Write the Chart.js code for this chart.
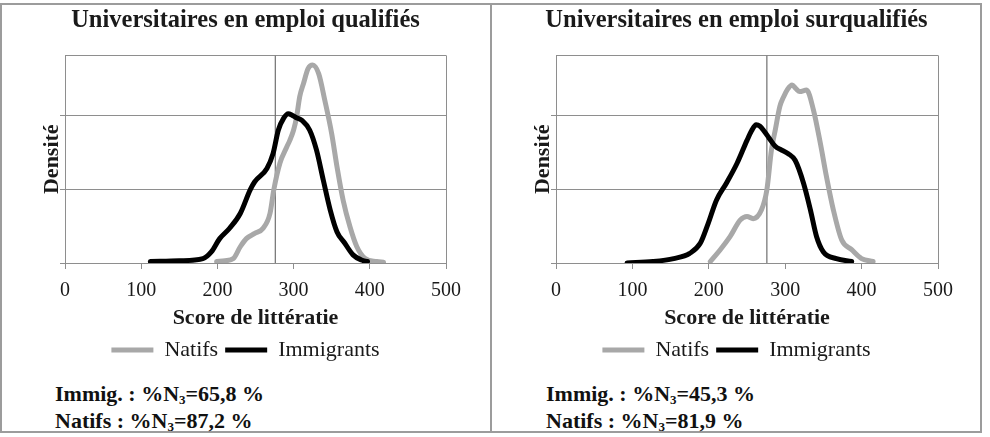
<!DOCTYPE html>
<html lang="fr">
<head>
<meta charset="utf-8">
<script src="https://cdn.jsdelivr.net/npm/chart.js@4"></script>
<style>
  body { margin: 0; background: #fff; width: 990px; height: 437px; position: relative; overflow: hidden; }
  .panel { position: absolute; top: 3px; width: 492px; height: 430px; box-sizing: border-box; border: 2px solid #9c9c9c; }
  canvas { position: absolute; top: 0; }
  .note { position: absolute; font: bold 22px "Liberation Serif", "Times New Roman", serif; color: #111; line-height: 27px; white-space: nowrap; }
  .note sub { font-size: 13px; line-height: 0; vertical-align: -3px; }
</style>
</head>
<body>
<div class="panel" style="left:0"></div>
<div class="panel" style="left:490px"></div>
<canvas id="chartQual" width="491" height="371" style="left:0"></canvas>
<canvas id="chartSurq" width="491" height="371" style="left:491px"></canvas>
<div class="note" style="left:55px;top:380px">Immig. : %N<sub>3</sub>=65,8 %<br>Natifs : %N<sub>3</sub>=87,2 %</div>
<div class="note" style="left:546px;top:380px">Immig. : %N<sub>3</sub>=45,3 %<br>Natifs : %N<sub>3</sub>=81,9 %</div>
<script>
(function () {
  const serif = "'Liberation Serif', 'Times New Roman', serif";
  Chart.defaults.font.family = serif;

  const xTicks = [0, 100, 200, 300, 400, 500];
  const yGrid = [0, 1, 2];
  const yMax = 2.81;
  const seuilNiveau3 = 276;

  // Universitaires en emploi qualifiés
  const qualNatifsX = [199, 210, 221, 230, 238, 249, 260, 269, 274, 282, 291, 295, 300, 304, 308, 313, 319, 325, 333, 341, 350, 357, 365, 374, 383, 394, 409, 418];
  const qualNatifsY = [0.02, 0.03, 0.06, 0.22, 0.33, 0.40, 0.47, 0.67, 0.99, 1.35, 1.57, 1.66, 1.80, 1.98, 2.25, 2.43, 2.63, 2.68, 2.56, 2.20, 1.75, 1.30, 0.85, 0.49, 0.22, 0.06, 0.02, 0.01];
  const qualImmigX = [112, 150, 181, 192, 203, 216, 230, 243, 249, 265, 273, 280, 287, 293, 298, 303, 311, 321, 330, 339, 348, 357, 367, 378, 389, 397];
  const qualImmigY = [0.02, 0.03, 0.06, 0.15, 0.33, 0.47, 0.67, 0.99, 1.10, 1.28, 1.48, 1.80, 1.96, 2.02, 2.00, 1.97, 1.93, 1.80, 1.53, 1.12, 0.72, 0.42, 0.27, 0.11, 0.04, 0.02];

  // Universitaires en emploi surqualifiés
  const surqNatifsX = [202, 215, 228, 241, 250, 258, 269, 276, 282, 287, 293, 298, 303, 309, 314, 319, 328, 337, 346, 354, 363, 374, 387, 400, 415];
  const surqNatifsY = [0.02, 0.18, 0.36, 0.58, 0.63, 0.60, 0.72, 0.99, 1.53, 1.80, 2.12, 2.25, 2.35, 2.41, 2.36, 2.32, 2.34, 2.07, 1.62, 1.17, 0.72, 0.31, 0.18, 0.06, 0.02];
  const surqImmigX = [93, 127, 154, 175, 189, 199, 210, 223, 237, 250, 256, 262, 267, 272, 279, 287, 295, 304, 313, 324, 333, 341, 350, 367, 387];
  const surqImmigY = [0.00, 0.02, 0.06, 0.13, 0.27, 0.53, 0.85, 1.08, 1.35, 1.66, 1.79, 1.87, 1.85, 1.79, 1.69, 1.58, 1.53, 1.48, 1.39, 1.08, 0.72, 0.36, 0.15, 0.06, 0.02];

  const gridGrey = "#8e8e8e";
  const textColor = "#1a1a1a";
  const toPoints = (xs, ys) => xs.map((x, i) => ({ x, y: ys[i] }));

  function curve(label, xs, ys, color, order) {
    return {
      label,
      data: toPoints(xs, ys),
      borderColor: color,
      backgroundColor: color,
      borderWidth: 5,
      pointRadius: 0,
      pointStyle: "line",
      cubicInterpolationMode: "monotone",
      borderJoinStyle: "round",
      borderCapStyle: "round",
      order
    };
  }

  function makeChart(id, title, natX, natY, immX, immY, rightGap) {
    new Chart(document.getElementById(id), {
      type: "line",
      data: {
        datasets: [
          curve("Natifs", natX, natY, "#a8a8a8", 1),
          curve("Immigrants", immX, immY, "#000000", 0),
          {
            label: "seuil",
            data: [{ x: seuilNiveau3, y: 0 }, { x: seuilNiveau3, y: yMax }],
            borderColor: "#6f6f6f",
            borderWidth: 1.2,
            pointRadius: 0,
            order: 2
          }
        ]
      },
      options: {
        responsive: false,
        animation: false,
        devicePixelRatio: 1,
        layout: { padding: 0 },
        plugins: {
          tooltip: { enabled: false },
          title: {
            display: true,
            text: title,
            color: textColor,
            font: { family: serif, size: 24.5, weight: "bold" },
            padding: { top: 6, bottom: 20 }
          },
          legend: {
            position: "bottom",
            labels: {
              usePointStyle: true,
              pointStyleWidth: 42,
              color: textColor,
              font: { family: serif, size: 22 },
              padding: 7,
              filter: item => item.datasetIndex < 2,
              sort: (a, b) => a.datasetIndex - b.datasetIndex
            }
          }
        },
        scales: {
          x: {
            type: "linear",
            min: 0,
            max: 500,
            afterBuildTicks: s => { s.ticks = xTicks.map(v => ({ value: v })); },
            afterFit: s => { s.height = 69; },
            ticks: { color: textColor, font: { family: serif, size: 20 }, padding: 10, autoSkip: false },
            grid: {
              color: c => (c.tick && c.tick.value === 500 ? gridGrey : "transparent"),
              tickColor: gridGrey,
              tickLength: 6
            },
            border: { color: gridGrey },
            title: {
              display: true,
              text: "Score de littératie",
              color: textColor,
              font: { family: serif, size: 22, weight: "bold" },
              padding: { top: 0, bottom: 0 }
            }
          },
          y: {
            type: "linear",
            min: 0,
            max: yMax,
            afterBuildTicks: s => { s.ticks = yGrid.concat([yMax]).map(v => ({ value: v })); },
            afterFit: s => { s.width = 65; },
            ticks: { display: false },
            grid: {
              color: gridGrey,
              tickColor: c => (c.tick && c.tick.value === yMax ? "transparent" : gridGrey),
              tickLength: 5
            },
            border: { color: gridGrey },
            title: {
              display: true,
              text: "Densité",
              color: textColor,
              font: { family: serif, size: 22, weight: "bold" },
              padding: { top: 39, bottom: 0 }
            }
          },
          // empty right axis: keeps the plot narrower while title/legend stay centred on the panel
          yRight: {
            type: "linear",
            position: "right",
            min: 0,
            max: yMax,
            afterFit: s => { s.width = rightGap; },
            ticks: { display: false },
            grid: { display: false, drawOnChartArea: false },
            border: { display: false }
          }
        }
      }
    });
  }

  makeChart("chartQual", "Universitaires en emploi qualifiés", qualNatifsX, qualNatifsY, qualImmigX, qualImmigY, 45);
  makeChart("chartSurq", "Universitaires en emploi surqualifiés", surqNatifsX, surqNatifsY, surqImmigX, surqImmigY, 44);
})();
</script>
</body>
</html>
